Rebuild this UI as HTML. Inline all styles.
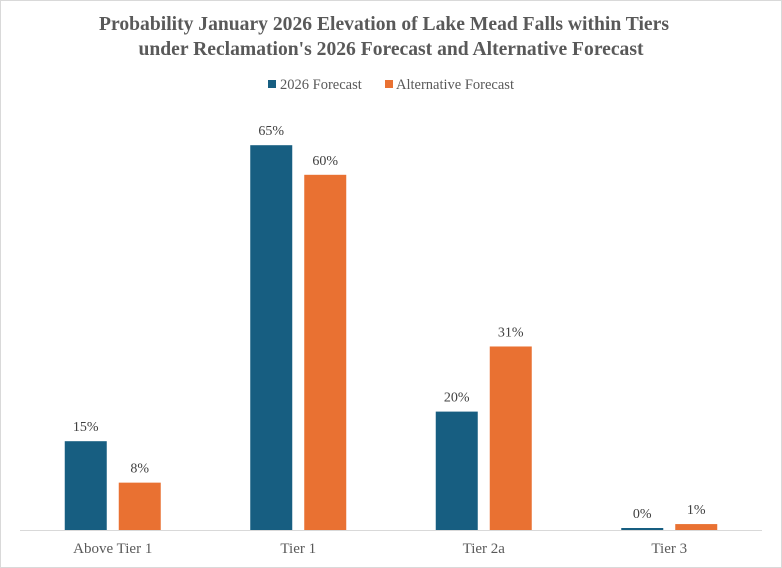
<!DOCTYPE html>
<html><head><meta charset="utf-8"><style>
body{margin:0;background:#fff;}
svg{display:block;font-family:"Liberation Serif",serif;}
</style></head><body>
<svg id="chart" width="782" height="568">
<rect x="0.5" y="0.5" width="781" height="567" fill="#fff" stroke="#d9d9d9"/>
<text x="384" y="30" text-anchor="middle" font-size="19.6" font-weight="bold" fill="#595959">Probability January 2026 Elevation of Lake Mead Falls within Tiers</text>
<text x="391" y="55" text-anchor="middle" font-size="19.6" font-weight="bold" fill="#595959">under Reclamation's 2026 Forecast and Alternative Forecast</text>
<g>
<rect x="268" y="80" width="8" height="8" fill="#175e81"/>
<text x="280" y="89" font-size="14.5" fill="#595959">2026 Forecast</text>
<rect x="385" y="80" width="8" height="8" fill="#e97132"/>
<text x="396" y="89" font-size="14.5" fill="#595959">Alternative Forecast</text>
</g>
<line x1="20" y1="530.5" x2="762" y2="530.5" stroke="#d9d9d9"/>
<g id="bars"></g>
</svg>
<script>
const categories = ["Above Tier 1", "Tier 1", "Tier 2a", "Tier 3"];
const forecast2026 = [15, 65, 20, 0];
const alternative = [8, 60, 31, 1];
const colors = ["#175e81", "#e97132"];
const plotLeft = 20, plotRight = 762, baseline = 530, pxPer = 5.92;
const bandW = (plotRight - plotLeft) / categories.length;
function xCenter(i){ return plotLeft + bandW * (i + 0.5); }
function yScale(v){ return baseline - v * pxPer; }
const g = document.getElementById('bars');
const NS = "http://www.w3.org/2000/svg";
const series = [forecast2026, alternative];
const seriesNames = ["2026", "alternative"];
categories.forEach((c, i) => {
  const cx = xCenter(i);
  series.forEach((s, k) => {
    const bw = 42, gap = 12;
    const x = k === 0 ? cx - gap / 2 - bw : cx + gap / 2;
    let y = yScale(s[i]);
    if (baseline - y < 2) y = baseline - 2;
    const r = document.createElementNS(NS, 'rect');
    r.setAttribute('x', x); r.setAttribute('y', y);
    r.setAttribute('width', bw); r.setAttribute('height', baseline - y);
    r.setAttribute('fill', colors[k]);
    
    
    g.appendChild(r);
    const t = document.createElementNS(NS, 'text');
    t.setAttribute('x', x + bw / 2); t.setAttribute('y', y - 10);
    t.setAttribute('text-anchor', 'middle'); t.setAttribute('font-size', '14');
    t.setAttribute('fill', '#404040');
    t.textContent = s[i] + '%';
    
    
    g.appendChild(t);
  });
  const l = document.createElementNS(NS, 'text');
  l.setAttribute('x', cx); l.setAttribute('y', 553);
  l.setAttribute('text-anchor', 'middle'); l.setAttribute('font-size', '15');
  l.setAttribute('fill', '#595959');
  l.textContent = c;
  
  
  g.appendChild(l);
});
</script>
</body></html>
